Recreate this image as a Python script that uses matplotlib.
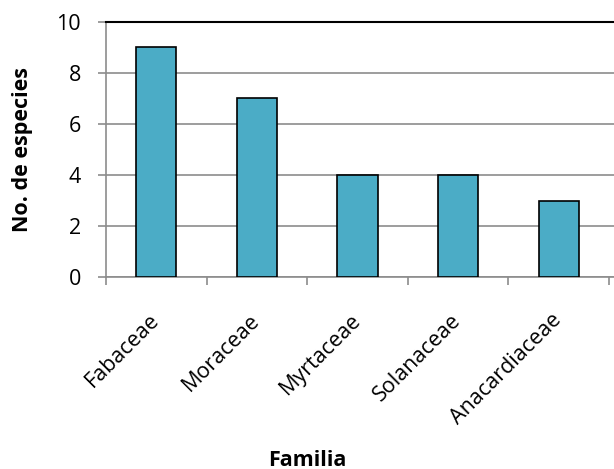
import matplotlib.pyplot as plt
import numpy as np

familias = ["Fabaceae", "Moraceae", "Myrtaceae", "Solanaceae", "Anacardiaceae"]
especies = [9, 7, 4, 4, 3]

plt.rcParams['font.family'] = ['Open Sans', 'DejaVu Sans']

fig = plt.figure(figsize=(6.14, 4.69), dpi=100)
ax = fig.add_axes([106/614, 1 - 277/469, 1 - 106/614, 255/469])

x = np.arange(len(familias))
ax.bar(x, especies, width=0.4, color="#4BACC6", edgecolor="black", linewidth=1.2, zorder=3)

ax.set_ylim(0, 10)
ax.set_yticks(range(0, 11, 2))
ax.set_xlim(-0.5, 4.55)
ax.set_xticks(np.arange(-0.5, 4.6, 1.0), minor=False)
ax.set_xticklabels([])
ax.set_xticks(x, minor=True)
ax.set_xticklabels(familias, minor=True, rotation=45, ha="right", va="center",
                   rotation_mode="anchor", fontsize=15.5)
ax.tick_params(axis="x", which="minor", length=0, pad=29)
ax.tick_params(axis="x", which="major", length=6, color="#8c8c8c", width=1.2)
ax.tick_params(axis="y", length=6, color="#8c8c8c", width=1.2, labelsize=15.5, pad=12)

ax.grid(axis="y", color="#8c8c8c", linewidth=1.2, zorder=0)
for s in ["left", "bottom"]:
    ax.spines[s].set_color("#8c8c8c")
    ax.spines[s].set_linewidth(1.2)
ax.spines["right"].set_visible(False)
ax.spines["top"].set_color("black")
ax.spines["top"].set_linewidth(1.5)

ax.set_ylabel("No. de especies", fontsize=15.5, fontweight="bold", va="center", ha="center")
ax.yaxis.set_label_coords(-0.164, 0.5)
ax.set_xlabel("Familia", fontsize=15.5, fontweight="bold", va="center", ha="center")
ax.xaxis.set_label_coords(0.396, -0.718)

plt.savefig("out.png", dpi=100)
